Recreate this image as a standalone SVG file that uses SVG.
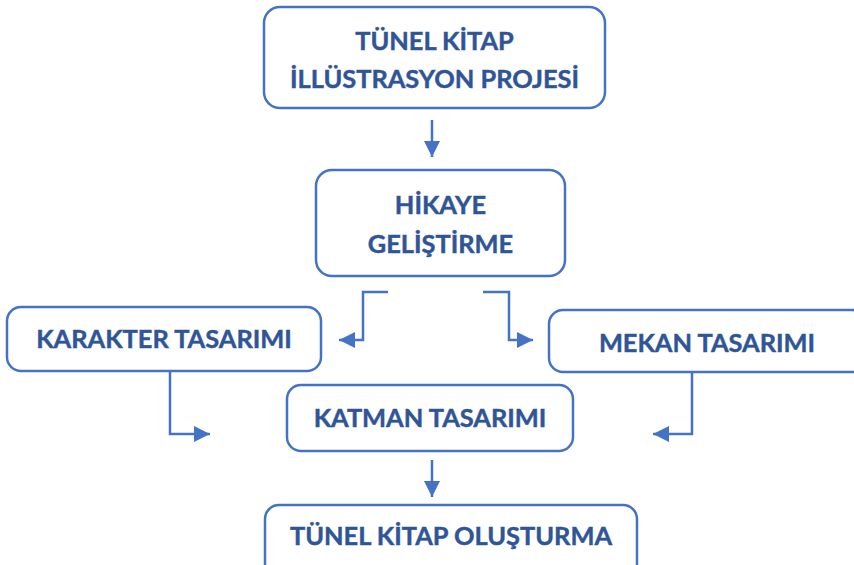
<svg xmlns="http://www.w3.org/2000/svg" width="854" height="565" viewBox="0 0 854 565">
<style>
.box{fill:#fff;stroke:#4472C4;stroke-width:2.5}
.t{font-family:Lato,"Liberation Sans",sans-serif;font-weight:700;font-size:25.4px;fill:#2F5597;stroke:#2F5597;stroke-width:0.45;text-anchor:middle}
.c{fill:none;stroke:#4472C4;stroke-width:2.5}
</style>
<defs>
<marker id="ah" viewBox="0 0 10 10" refX="10" refY="5" markerWidth="6.4" markerHeight="6.4" orient="auto" markerUnits="strokeWidth">
<path d="M0,0 L10,5 L0,10 Z" fill="#4472C4"/>
</marker>
</defs>
<rect width="854" height="565" fill="#fff"/>
<g id="connectors">
<path class="c" d="M432,120 V157" marker-end="url(#ah)"/>
<path class="c" d="M388,292 H363 V340 H339" marker-end="url(#ah)"/>
<path class="c" d="M483,292 H509 V340 H533" marker-end="url(#ah)"/>
<path class="c" d="M170,371 V434 H210" marker-end="url(#ah)"/>
<path class="c" d="M692,372 V434 H653" marker-end="url(#ah)"/>
<path class="c" d="M432,460 V497" marker-end="url(#ah)"/>
</g>
<g id="n1">
<rect class="box" x="264" y="7" width="341" height="101" rx="16"/>
<text class="t" x="434.5" y="50">TÜNEL KİTAP</text>
<text class="t" x="434.5" y="88">İLLÜSTRASYON PROJESİ</text>
</g>
<g id="n2">
<rect class="box" x="316" y="170" width="249" height="106" rx="16"/>
<text class="t" x="440.5" y="214">HİKAYE</text>
<text class="t" x="440.5" y="253">GELİŞTİRME</text>
</g>
<g id="n3">
<rect class="box" x="7" y="307" width="314" height="64" rx="14"/>
<text class="t" x="164" y="348">KARAKTER TASARIMI</text>
</g>
<g id="n4">
<rect class="box" x="549" y="310" width="317" height="62" rx="14"/>
<text class="t" x="707" y="352">MEKAN TASARIMI</text>
</g>
<g id="n5">
<rect class="box" x="287" y="385" width="286" height="66" rx="14"/>
<text class="t" x="430" y="427">KATMAN TASARIMI</text>
</g>
<g id="n6">
<rect class="box" x="265" y="505" width="372" height="75" rx="14"/>
<text class="t" x="451" y="545">TÜNEL KİTAP OLUŞTURMA</text>
</g>
</svg>
